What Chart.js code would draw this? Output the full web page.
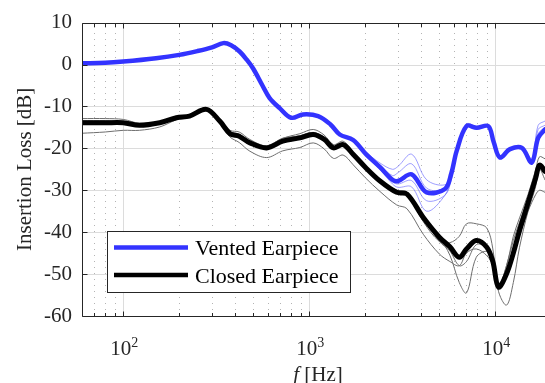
<!DOCTYPE html>
<html>
<head>
<meta charset="utf-8">
<script src="https://cdn.jsdelivr.net/npm/chart.js@4.4.1/dist/chart.umd.min.js"></script>
<style>
html, body { margin: 0; padding: 0; background: #fff; overflow: hidden; }
#wrap { width: 545px; height: 383px; }
</style>
</head>
<body>
<div id="wrap"><canvas id="chartIL" width="545" height="383"></canvas></div>
<script>
// frequency grids (Hz)
var freqVented = [60, 80, 100, 150, 200, 250, 300, 345, 380, 422, 460, 500, 560, 612, 693, 800, 926, 1115, 1300, 1458,
    1720, 2030, 2400, 2800, 3000, 3550, 4275, 5360, 5800, 6200, 7000, 7940, 9170, 9800, 10590, 12000, 13900, 15700, 17000, 18500];
var freqClosed = [60, 80, 100, 122, 157, 193, 227, 280, 330, 375, 420, 480, 590, 720, 890, 1050, 1200, 1350, 1520, 1720,
    2000, 2400, 2950, 3350, 4100, 5000, 5700, 6400, 7000, 7900, 9000, 9700, 10400, 11500, 12500, 13500, 15000, 16500, 17300, 18500];

// mean curves (dB)
var ventedMean = [0.3, 0.4, 0.7, 1.5, 2.3, 3.2, 4.1, 5.1, 4.6, 3.1, 1.2, -1.0, -5.0, -8.0, -10.4, -12.7, -11.9, -12.3, -14.3, -16.7,
    -18.0, -21.5, -24.5, -27.5, -27.8, -26.2, -30.5, -29.7, -26.0, -20.6, -14.7, -15.1, -14.7, -18.5, -22.2, -20.2, -19.9, -23.4, -17.5, -15.5];
var closedMean = [-13.9, -13.9, -13.9, -14.5, -13.9, -12.7, -12.3, -10.7, -13.5, -16.5, -17.1, -18.7, -19.9, -18.3, -17.5, -16.7, -17.8, -19.9, -19.1, -21.4,
    -24.5, -27.8, -30.5, -30.9, -36.5, -41.2, -43.5, -46.0, -44.0, -42.0, -43.6, -47.0, -53.1, -49.9, -45.0, -39.6, -33.0, -27.0, -24.0, -25.5];

// individual measurements, vented
var ventedRuns = [
    [0.3, 0.4, 0.7, 1.5, 2.3, 3.2, 4.1, 5.1, 4.6, 3.1, 1.2, -1.0, -5.0, -8.0, -10.4, -12.7, -11.9, -12.3, -14.3, -16.7,
        -18.0, -21.0, -23.5, -25.0, -24.3, -21.4, -27.5, -28.7, -26.0, -20.6, -14.2, -14.8, -14.7, -18.5, -21.7, -20.2, -19.9, -22.4, -14.5, -13.5],
    [0.2, 0.3, 0.6, 1.4, 2.2, 3.1, 4.0, 5.0, 4.5, 3.0, 1.0, -1.2, -5.2, -8.2, -10.6, -12.9, -12.1, -12.5, -14.5, -16.9,
        -18.2, -22.0, -25.0, -28.5, -29.3, -29.2, -35.0, -31.2, -27.0, -21.1, -14.7, -15.4, -14.9, -18.7, -22.2, -20.2, -19.9, -23.4, -16.5, -15.0],
    [0.4, 0.5, 0.8, 1.6, 2.4, 3.3, 4.2, 5.2, 4.7, 3.2, 1.3, -0.9, -4.8, -7.8, -10.2, -12.5, -11.7, -12.1, -14.1, -16.5,
        -17.8, -21.3, -24.0, -26.5, -25.8, -23.7, -29.5, -29.7, -26.0, -20.6, -14.5, -15.0, -14.5, -18.3, -22.0, -20.0, -19.7, -23.0, -15.5, -14.5],
    [0.3, 0.4, 0.7, 1.5, 2.3, 3.2, 4.1, 5.1, 4.6, 3.1, 1.2, -1.0, -5.0, -8.0, -10.4, -12.7, -11.9, -12.3, -14.3, -16.7,
        -18.0, -21.7, -25.0, -28.0, -28.5, -27.7, -32.5, -31.2, -27.5, -21.0, -15.0, -15.3, -14.9, -18.8, -22.5, -20.5, -20.2, -23.6, -17.0, -16.0]
];

// individual measurements, closed
var closedRuns = [
    [-12.9, -12.9, -13.1, -14.0, -13.6, -12.5, -12.0, -10.3, -13.1, -15.7, -16.1, -17.9, -19.4, -17.6, -16.5, -15.5, -16.8, -19.1, -18.3, -20.9,
        -24.2, -27.5, -30.0, -30.4, -36.0, -41.2, -45.5, -52.0, -54.5, -46.0, -44.6, -47.0, -53.0, -48.0, -41.0, -36.6, -31.0, -25.0, -22.0, -22.5],
    [-16.4, -16.1, -15.7, -15.7, -14.9, -13.2, -12.6, -11.0, -14.0, -17.3, -18.6, -20.7, -22.2, -20.6, -19.8, -18.7, -20.1, -22.4, -21.6, -23.9,
        -27.0, -30.3, -33.5, -34.4, -40.5, -45.2, -47.0, -48.0, -45.0, -44.0, -45.6, -48.0, -53.1, -48.9, -45.0, -40.6, -35.0, -31.0, -30.0, -30.5],
    [-13.4, -13.4, -13.6, -14.5, -13.9, -12.7, -12.3, -10.4, -13.2, -16.0, -16.6, -18.4, -19.6, -17.8, -17.0, -16.2, -17.5, -19.6, -18.8, -21.4,
        -24.5, -27.8, -30.5, -30.9, -37.5, -42.2, -42.5, -41.0, -38.0, -38.0, -39.0, -44.0, -54.1, -57.4, -52.0, -43.6, -35.0, -29.0, -24.0, -24.5],
    [-13.6, -13.7, -13.9, -14.8, -14.2, -12.9, -12.1, -10.5, -13.5, -16.8, -16.9, -18.4, -19.4, -17.6, -17.0, -16.2, -17.3, -19.6, -19.1, -21.7,
        -25.0, -28.1, -30.5, -30.4, -36.5, -42.2, -44.5, -48.0, -47.0, -43.0, -43.6, -48.0, -53.1, -47.9, -42.0, -37.6, -32.0, -27.0, -25.0, -27.5]
];

var yTicks = [-60, -50, -40, -30, -20, -10, 0, 10];
var xMajor = [100, 1000, 10000];
var FONT = '"Liberation Serif", "Times New Roman", serif';

function toPoints(freqs, vals) {
    return freqs.map(function (f, i) { return { x: f, y: vals[i] }; });
}

var datasets = [
    { label: 'Closed Earpiece', data: toPoints(freqClosed, closedMean), borderColor: '#000000', borderWidth: 5, inLegend: true },
    { label: 'Vented Earpiece', data: toPoints(freqVented, ventedMean), borderColor: '#3333ff', borderWidth: 4.5, inLegend: true }
];
ventedRuns.forEach(function (r) {
    datasets.push({ data: toPoints(freqVented, r), borderColor: 'rgba(110,110,255,0.75)', borderWidth: 0.9 });
});
closedRuns.forEach(function (r) {
    datasets.push({ data: toPoints(freqClosed, r), borderColor: '#6e6e6e', borderWidth: 1 });
});

var axesPlugin = {
    id: 'matlabAxes',
    beforeDatasetsDraw: function (chart) {
        var ctx = chart.ctx, a = chart.chartArea, sx = chart.scales.x, sy = chart.scales.y;
        ctx.save();
        // minor dotted grid
        ctx.strokeStyle = '#b4b4b4';
        ctx.lineWidth = 1;
        ctx.setLineDash([1, 5]);
        [10, 100, 1000, 10000].forEach(function (d) {
            for (var m = 2; m <= 9; m++) {
                var f = d * m;
                if (f < sx.min || f > sx.max) continue;
                var px = Math.round(sx.getPixelForValue(f)) + 0.5;
                ctx.beginPath(); ctx.moveTo(px, a.bottom); ctx.lineTo(px, a.top); ctx.stroke();
            }
        });
        ctx.setLineDash([]);
        ctx.strokeStyle = '#dcdcdc';
        xMajor.forEach(function (f) {
            var px = Math.round(sx.getPixelForValue(f)) + 0.5;
            ctx.beginPath(); ctx.moveTo(px, a.bottom); ctx.lineTo(px, a.top); ctx.stroke();
        });
        yTicks.forEach(function (v) {
            var py = Math.round(sy.getPixelForValue(v)) + 0.5;
            ctx.beginPath(); ctx.moveTo(a.left, py); ctx.lineTo(a.right, py); ctx.stroke();
        });
        ctx.restore();
    },
    afterDatasetsDraw: function (chart) {
        var ctx = chart.ctx, a = chart.chartArea, sx = chart.scales.x, sy = chart.scales.y;
        ctx.save();
        ctx.strokeStyle = '#262626';
        ctx.lineWidth = 1;
        var L = Math.round(a.left) + 0.5, B = Math.round(a.bottom) + 0.5, T = Math.round(a.top) + 0.5;
        ctx.beginPath();
        ctx.moveTo(a.right, T); ctx.lineTo(L, T); ctx.lineTo(L, B); ctx.lineTo(a.right, B);
        ctx.stroke();
        // tick marks, inward
        [10, 100, 1000, 10000].forEach(function (d) {
            for (var m = 1; m <= 9; m++) {
                var f = d * m;
                if (f <= sx.min || f > sx.max) continue;
                var px = Math.round(sx.getPixelForValue(f)) + 0.5;
                var len = m === 1 ? 5 : 3.5;
                ctx.beginPath();
                ctx.moveTo(px, B); ctx.lineTo(px, B - len);
                ctx.moveTo(px, T); ctx.lineTo(px, T + len);
                ctx.stroke();
            }
        });
        yTicks.forEach(function (v) {
            var py = Math.round(sy.getPixelForValue(v)) + 0.5;
            ctx.beginPath(); ctx.moveTo(L, py); ctx.lineTo(L + 5, py); ctx.stroke();
        });

        // legend box
        ctx.fillStyle = '#ffffff';
        ctx.fillRect(107.5, 231.5, 243, 61);
        ctx.strokeRect(107.5, 231.5, 243, 61);
        var rows = [chart.data.datasets[1], chart.data.datasets[0]];
        var ys = [247.5, 275];
        ctx.font = '22px ' + FONT;
        ctx.textBaseline = 'alphabetic';
        ctx.textAlign = 'left';
        rows.forEach(function (ds, i) {
            ctx.strokeStyle = ds.borderColor;
            ctx.lineWidth = 4.5;
            ctx.beginPath(); ctx.moveTo(114, ys[i]); ctx.lineTo(188, ys[i]); ctx.stroke();
            ctx.fillStyle = '#000000';
            ctx.fillText(ds.label, 195, ys[i] + 7.5);
        });
        ctx.restore();
    },
    afterDraw: function (chart) {
        var ctx = chart.ctx, a = chart.chartArea, sx = chart.scales.x;
        ctx.save();
        ctx.fillStyle = '#262626';
        ctx.textBaseline = 'alphabetic';
        ctx.textAlign = 'left';
        // x tick labels 10^n
        xMajor.forEach(function (f) {
            var px = sx.getPixelForValue(f);
            var exp = String(Math.round(Math.log10(f)));
            ctx.font = '21px ' + FONT;
            var w1 = ctx.measureText('10').width;
            ctx.font = '14px ' + FONT;
            var w2 = ctx.measureText(exp).width;
            var x0 = px - (w1 + w2) / 2 + 1;
            ctx.font = '21px ' + FONT;
            ctx.fillText('10', x0, 355);
            ctx.font = '14px ' + FONT;
            ctx.fillText(exp, x0 + w1, 347);
        });
        // x title
        ctx.font = 'italic 21px ' + FONT;
        var wf = ctx.measureText('f').width;
        ctx.font = '21px ' + FONT;
        var wr = ctx.measureText(' [Hz]').width;
        var xs = 318 - (wf + wr) / 2;
        ctx.font = 'italic 21px ' + FONT;
        ctx.fillText('f', xs, 381);
        ctx.font = '21px ' + FONT;
        ctx.fillText(' [Hz]', xs + wf, 381);
        // y title
        ctx.translate(31, (a.top + a.bottom) / 2);
        ctx.rotate(-Math.PI / 2);
        ctx.textAlign = 'center';
        ctx.fillText('Insertion Loss [dB]', 0, 0);
        ctx.restore();
    }
};

var chartIL = document.getElementById('chartIL');
new Chart(chartIL.getContext('2d'), {
    type: 'line',
    data: { datasets: datasets },
    options: {
        responsive: false,
        animation: false,
        devicePixelRatio: 1,
        layout: { padding: { top: 21, left: 0, right: 0, bottom: 0 } },
        elements: {
            point: { radius: 0 },
            line: { tension: 0.35, fill: false, borderCapStyle: 'round', borderJoinStyle: 'round' }
        },
        plugins: {
            legend: { display: false },
            tooltip: { enabled: false },
        },
        scales: {
            x: {
                type: 'logarithmic',
                min: 60,
                max: 18500,
                afterFit: function (s) { s.height = 67; },
                ticks: { display: false },
                grid: { display: false, drawTicks: false },
                border: { display: false },
            },
            y: {
                type: 'linear',
                min: -60,
                max: 10,
                afterFit: function (s) { s.width = 82; },
                ticks: {
                    stepSize: 10,
                    padding: 10,
                    color: '#262626',
                    font: { family: FONT, size: 21 },
                    callback: function (v) { return String(v); },
                },
                grid: { display: false, drawTicks: false },
                border: { display: false },
            },
        },
    },
    plugins: [axesPlugin],
});
</script>
</body>
</html>
